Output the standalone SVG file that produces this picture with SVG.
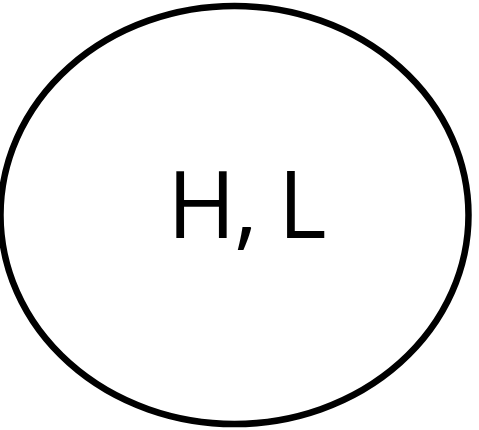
<svg xmlns="http://www.w3.org/2000/svg" width="479" height="430" viewBox="0 0 479 430">
<style>
.node-shape{fill:#fff;stroke:#000;stroke-width:6.5}
.label{font-family:"Open Sans","Liberation Sans",sans-serif;font-size:93px;fill:#000}
</style>
<rect width="479" height="430" fill="#fff"/>
<g id="connectors"></g>
<g id="node-hl">
<ellipse class="node-shape" cx="234.5" cy="215" rx="234" ry="209"/>
<text class="label" x="246" y="238" text-anchor="middle" letter-spacing="-2">H, L</text>
</g>
</svg>
